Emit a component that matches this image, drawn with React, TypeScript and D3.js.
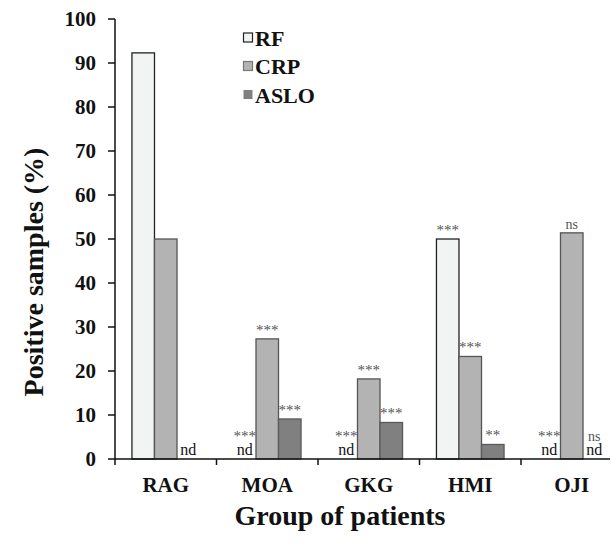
import React from 'react';
import * as d3 from 'd3';

const groups = ['RAG', 'MOA', 'GKG', 'HMI', 'OJI'];
const seriesNames = ['RF', 'CRP', 'ASLO'];
const rfValues = [92.3, 0, 0, 50.0, 0];
const crpValues = [50.0, 27.3, 18.2, 23.3, 51.4];
const asloValues = [0, 9.1, 8.3, 3.3, 0];
const rfSig = ['', '***', '***', '***', '***'];
const crpSig = ['', '***', '***', '***', 'ns'];
const asloSig = ['', '***', '***', '**', 'ns'];
const yTicks = [0, 10, 20, 30, 40, 50, 60, 70, 80, 90, 100];

const fills = ['#f2f3f3', '#b3b3b3', '#808080'];
const strokes = ['#222', '#555', '#5a5a5a'];

const font = 'Liberation Serif, Times New Roman, serif';

export default function App() {
  const width = 611;
  const height = 545;
  const left = 115;
  const bandW = 101.5;

  const x0 = d3.scaleBand<string>()
    .domain(groups)
    .range([left, left + bandW * groups.length]);
  const x1 = d3.scaleBand<string>()
    .domain(seriesNames)
    .range([bandW * 0.167, bandW * 0.833]);
  const y = d3.scaleLinear().domain([0, 100]).range([459, 19]);

  const series = [
    { name: 'RF', values: rfValues, sig: rfSig },
    { name: 'CRP', values: crpValues, sig: crpSig },
    { name: 'ASLO', values: asloValues, sig: asloSig },
  ];

  return (
    <svg width={width} height={height}
      style={{ position: 'absolute', left: 0, top: 0, background: '#fff', fontFamily: font }}>
      {/* bars */}
      {series.map((s, si) =>
        groups.map((g, gi) => {
          const v = s.values[gi];
          const bx = (x0(g) as number) + (x1(s.name) as number);
          const bw = x1.bandwidth();
          const cx = bx + bw / 2;
          const top = y(v);
          return (
            <g key={s.name + g}>
              {v > 0 && (
                <rect x={bx} y={top} width={bw} height={y(0) - top}
                  fill={fills[si]} stroke={strokes[si]} strokeWidth={1.3} />
              )}
              {v === 0 && (
                <text x={cx} y={y(0) - 4} textAnchor="middle"
                  style={{ fontSize: 16 }} fill="#111">nd</text>
              )}
              {s.sig[gi] && (
                <text x={cx} y={v === 0 ? y(0) - 18 : top - 4} textAnchor="middle"
                  style={{ fontSize: s.sig[gi] === 'ns' ? 14 : 15 }} fill="#555">{s.sig[gi]}</text>
              )}
            </g>
          );
        })
      )}

      {/* y axis */}
      <line x1={left} x2={left} y1={y(100)} y2={y(0)} stroke="#111" strokeWidth={1.5} />
      {yTicks.map(t => (
        <g key={t}>
          <line x1={left - 7} x2={left} y1={y(t)} y2={y(t)} stroke="#111" strokeWidth={1.5} />
          <text x={left - 19} y={y(t) + 7} textAnchor="end"
            style={{ fontSize: 21, fontWeight: 'bold' }} fill="#111">{t}</text>
        </g>
      ))}

      {/* x axis */}
      <line x1={left} x2={610} y1={y(0)} y2={y(0)} stroke="#111" strokeWidth={1.5} />
      {groups.map(g => (
        <g key={g}>
          <line x1={x0(g) as number} x2={x0(g) as number} y1={y(0)} y2={y(0) + 6}
            stroke="#111" strokeWidth={1.5} />
          <text x={(x0(g) as number) + bandW / 2} y={492} textAnchor="middle"
            style={{ fontSize: 21, fontWeight: 'bold' }} fill="#111">{g}</text>
        </g>
      ))}

      {/* axis titles */}
      <text x={340} y={525} textAnchor="middle"
        style={{ fontSize: 28, fontWeight: 'bold' }} fill="#111">Group of patients</text>
      <text transform={`translate(43,${272}) rotate(-90)`} textAnchor="middle"
        style={{ fontSize: 28, fontWeight: 'bold' }} fill="#111">Positive samples (%)</text>

      {/* legend */}
      {seriesNames.map((n, i) => (
        <g key={n} transform={`translate(243,${38 + i * 28.5})`}>
          <rect x={0.5} y={-5} width={9} height={9} fill={fills[i]}
            stroke={i === 0 ? '#222' : i === 1 ? '#777' : 'none'} strokeWidth={1.2} />
          <text x={12} y={7.5} style={{ fontSize: 22, fontWeight: 'bold' }} fill="#111">{n}</text>
        </g>
      ))}
    </svg>
  );
}
